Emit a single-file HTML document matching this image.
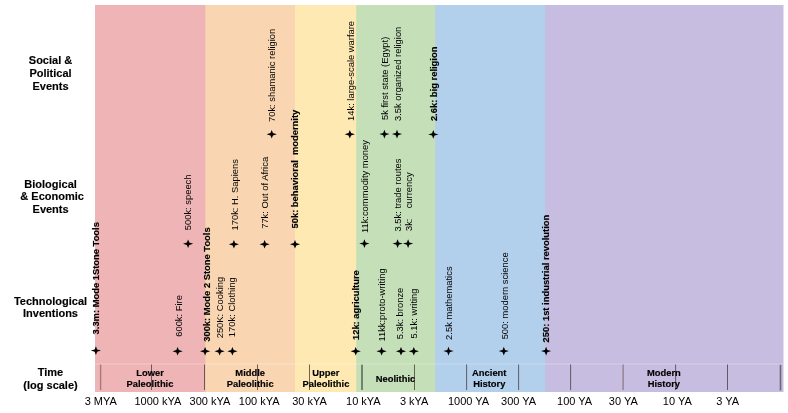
<!DOCTYPE html>
<html><head><meta charset="utf-8"><style>
html,body{margin:0;padding:0;background:#fff;width:788px;height:413px;overflow:hidden}
svg{display:block;will-change:transform;font-family:"Liberation Sans",sans-serif}
text{fill:#000}
.b,.lb,.er{stroke:#000;stroke-width:0.15px}
.r{font-size:9.4px}
.b{font-weight:bold}
.lb{font-size:11px;font-weight:bold}
.ax{font-size:11px}
.er{font-size:9.4px;font-weight:bold}
</style></head><body>
<svg width="788" height="413" viewBox="0 0 788 413">


<rect x="95" y="5" width="112.4" height="387" fill="#EFB4B5"/>
<rect x="205.4" y="5" width="91.6" height="387" fill="#F9D6B1"/>
<rect x="295" y="5" width="63.2" height="387" fill="#FEE9B3"/>
<rect x="356.2" y="5" width="81.0" height="387" fill="#C5DFB8"/>
<rect x="435.2" y="5" width="112.1" height="387" fill="#B2CFEB"/>
<rect x="545.3" y="5" width="238.2" height="387" fill="#C7BDE0"/>
<rect x="95" y="363.5" width="688.5" height="1" fill="#fff" fill-opacity="0.3"/>
<rect x="99.9" y="364.5" width="1.4" height="25.5" fill="#553333" fill-opacity="0.45"/>
<rect x="151.0" y="364.5" width="1" height="25.5" fill="#4a4040" fill-opacity="0.8"/>
<rect x="204.0" y="364.5" width="1" height="25.5" fill="#4a4040" fill-opacity="0.8"/>
<rect x="257.0" y="364.5" width="1" height="25.5" fill="#4a4040" fill-opacity="0.8"/>
<rect x="309.0" y="364.5" width="1" height="25.5" fill="#4a4040" fill-opacity="0.8"/>
<rect x="361" y="364.7" width="2" height="25.3" fill="#3a4a35" fill-opacity="0.6"/>
<rect x="414.0" y="364.5" width="1" height="25.5" fill="#4a4040" fill-opacity="0.8"/>
<rect x="466.1" y="364.5" width="1" height="25.5" fill="#4a4040" fill-opacity="0.8"/>
<rect x="518.1" y="364.5" width="1" height="25.5" fill="#4a4040" fill-opacity="0.8"/>
<rect x="570.1" y="364.5" width="1" height="25.5" fill="#4a4040" fill-opacity="0.8"/>
<rect x="622.4" y="364.5" width="1.4" height="25.5" fill="#553333" fill-opacity="0.45"/>
<rect x="675.1" y="364.5" width="1" height="25.5" fill="#4a4040" fill-opacity="0.8"/>
<rect x="727.0" y="364.5" width="1" height="25.5" fill="#4a4040" fill-opacity="0.8"/>
<rect x="779.7" y="364.8" width="1.6" height="25.7" fill="#555" fill-opacity="0.8"/>
<text class="er" x="150" y="375.7" text-anchor="middle">Lower</text>
<text class="er" x="150" y="386.7" text-anchor="middle">Paleolithic</text>
<text class="er" x="250.2" y="375.7" text-anchor="middle">Middle</text>
<text class="er" x="250.2" y="386.7" text-anchor="middle">Paleolithic</text>
<text class="er" x="325.9" y="375.7" text-anchor="middle">Upper</text>
<text class="er" x="325.9" y="386.7" text-anchor="middle">Paleolithic</text>
<text class="er" x="395.5" y="381.5" text-anchor="middle">Neolithic</text>
<text class="er" x="489.3" y="376" text-anchor="middle">Ancient</text>
<text class="er" x="489.3" y="386.9" text-anchor="middle">History</text>
<text class="er" x="663.9" y="376" text-anchor="middle">Modern</text>
<text class="er" x="663.9" y="386.9" text-anchor="middle">History</text>
<text class="lb" x="50.5" y="64.2" text-anchor="middle">Social &</text>
<text class="lb" x="50.5" y="76.7" text-anchor="middle">Political</text>
<text class="lb" x="50.5" y="89.8" text-anchor="middle">Events</text>
<text class="lb" x="50.6" y="187.6" text-anchor="middle">Biological</text>
<text class="lb" x="52.1" y="200.3" text-anchor="middle">& Economic</text>
<text class="lb" x="50.6" y="213" text-anchor="middle">Events</text>
<text class="lb" x="50.5" y="304.8" text-anchor="middle">Technological</text>
<text class="lb" x="50.5" y="317.4" text-anchor="middle">Inventions</text>
<text class="lb" x="50.5" y="375.7" text-anchor="middle">Time</text>
<text class="lb" x="50.5" y="388.5" text-anchor="middle">(log scale)</text>
<text class="ax" x="100.8" y="405.2" text-anchor="middle">3 MYA</text>
<text class="ax" x="157.9" y="405.2" text-anchor="middle">1000 kYA</text>
<text class="ax" x="210" y="405.2" text-anchor="middle">300 kYA</text>
<text class="ax" x="259.2" y="405.2" text-anchor="middle">100 kYA</text>
<text class="ax" x="309.5" y="405.2" text-anchor="middle">30 kYA</text>
<text class="ax" x="363.4" y="405.2" text-anchor="middle">10 kYA</text>
<text class="ax" x="414.2" y="405.2" text-anchor="middle">3 kYA</text>
<text class="ax" x="468.6" y="405.2" text-anchor="middle">1000 YA</text>
<text class="ax" x="518.6" y="405.2" text-anchor="middle">300 YA</text>
<text class="ax" x="574.6" y="405.2" text-anchor="middle">100 YA</text>
<text class="ax" x="623.3" y="405.2" text-anchor="middle">30 YA</text>
<text class="ax" x="677.3" y="405.2" text-anchor="middle">10 YA</text>
<text class="ax" x="727.7" y="405.2" text-anchor="middle">3 YA</text>
<text class="r" x="274.99" y="75.35" text-anchor="middle" transform="rotate(-90 274.99 75.35)">70k: shamanic religion</text>
<text class="r" x="353.74" y="70.95" text-anchor="middle" transform="rotate(-90 353.74 70.95)">14k: large-scale warfare</text>
<text class="r" x="388.04" y="78.40" text-anchor="middle" transform="rotate(-90 388.04 78.40)">5k first state (Egypt)</text>
<text class="r" x="400.74" y="73.85" text-anchor="middle" transform="rotate(-90 400.74 73.85)">3.5k organized religion</text>
<text class="r b" x="436.99" y="83.85" text-anchor="middle" transform="rotate(-90 436.99 83.85)">2.6k: big religion</text>
<text class="r" x="191.44" y="202.35" text-anchor="middle" transform="rotate(-90 191.44 202.35)">500k: speech</text>
<text class="r" x="237.74" y="194.75" text-anchor="middle" transform="rotate(-90 237.74 194.75)">170k: H. Sapiens</text>
<text class="r" x="268.04" y="192.85" text-anchor="middle" transform="rotate(-90 268.04 192.85)">77k: Out of Africa</text>
<text class="r b" x="297.89" y="169.10" text-anchor="middle" transform="rotate(-90 297.89 169.10)">50k: behavioral  modernity</text>
<text class="r" x="368.04" y="186.55" text-anchor="middle" transform="rotate(-90 368.04 186.55)">11k:commodity money</text>
<text class="r" x="400.69" y="195.05" text-anchor="middle" transform="rotate(-90 400.69 195.05)">3.5k: trade routes</text>
<text class="r" x="411.64" y="224.80" text-anchor="middle" transform="rotate(-90 411.64 224.80)">3k:</text>
<text class="r" x="411.64" y="190.35" text-anchor="middle" transform="rotate(-90 411.64 190.35)">currency</text>
<text class="r b" x="99.24" y="278.25" text-anchor="middle" transform="rotate(-90 99.24 278.25)">3.3m: Mode 1Stone Tools</text>
<text class="r" x="182.04" y="315.95" text-anchor="middle" transform="rotate(-90 182.04 315.95)">600k: Fire</text>
<text class="r b" x="209.64" y="284.55" text-anchor="middle" transform="rotate(-90 209.64 284.55)">300k: Mode 2 Stone Tools</text>
<text class="r" x="223.04" y="307.55" text-anchor="middle" transform="rotate(-90 223.04 307.55)">250K: Cooking</text>
<text class="r" x="235.34" y="307.15" text-anchor="middle" transform="rotate(-90 235.34 307.15)">170k: Clothing</text>
<text class="r b" x="359.49" y="305.10" text-anchor="middle" transform="rotate(-90 359.49 305.10)">12k: agriculture</text>
<text class="r" x="384.89" y="304.95" text-anchor="middle" transform="rotate(-90 384.89 304.95)">11kk:proto-writing</text>
<text class="r" x="403.09" y="313.50" text-anchor="middle" transform="rotate(-90 403.09 313.50)">5.3k: bronze</text>
<text class="r" x="417.34" y="313.45" text-anchor="middle" transform="rotate(-90 417.34 313.45)">5.1k: writing</text>
<text class="r" x="452.09" y="303.15" text-anchor="middle" transform="rotate(-90 452.09 303.15)">2.5k mathematics</text>
<text class="r" x="507.79" y="295.85" text-anchor="middle" transform="rotate(-90 507.79 295.85)">500: modern science</text>
<text class="r b" x="549.04" y="278.60" text-anchor="middle" transform="rotate(-90 549.04 278.60)">250: 1st industrial revolution</text>
<path transform="translate(271.7 134.3)" d="M-5.1 0L-1.25 -1.2L0 -4.3L1.25 -1.2L5.1 0L1.25 1.2L0 4.3L-1.25 1.2Z"/>
<path transform="translate(349.8 134.3)" d="M-5.1 0L-1.25 -1.2L0 -4.3L1.25 -1.2L5.1 0L1.25 1.2L0 4.3L-1.25 1.2Z"/>
<path transform="translate(384.4 134.1)" d="M-5.1 0L-1.25 -1.2L0 -4.3L1.25 -1.2L5.1 0L1.25 1.2L0 4.3L-1.25 1.2Z"/>
<path transform="translate(397 134.1)" d="M-5.1 0L-1.25 -1.2L0 -4.3L1.25 -1.2L5.1 0L1.25 1.2L0 4.3L-1.25 1.2Z"/>
<path transform="translate(433.3 134.4)" d="M-5.1 0L-1.25 -1.2L0 -4.3L1.25 -1.2L5.1 0L1.25 1.2L0 4.3L-1.25 1.2Z"/>
<path transform="translate(188.1 243.8)" d="M-5.1 0L-1.25 -1.2L0 -4.3L1.25 -1.2L5.1 0L1.25 1.2L0 4.3L-1.25 1.2Z"/>
<path transform="translate(233.9 244.2)" d="M-5.1 0L-1.25 -1.2L0 -4.3L1.25 -1.2L5.1 0L1.25 1.2L0 4.3L-1.25 1.2Z"/>
<path transform="translate(264.6 244.2)" d="M-5.1 0L-1.25 -1.2L0 -4.3L1.25 -1.2L5.1 0L1.25 1.2L0 4.3L-1.25 1.2Z"/>
<path transform="translate(295 244.2)" d="M-5.1 0L-1.25 -1.2L0 -4.3L1.25 -1.2L5.1 0L1.25 1.2L0 4.3L-1.25 1.2Z"/>
<path transform="translate(364.4 243.6)" d="M-5.1 0L-1.25 -1.2L0 -4.3L1.25 -1.2L5.1 0L1.25 1.2L0 4.3L-1.25 1.2Z"/>
<path transform="translate(397.6 243.6)" d="M-5.1 0L-1.25 -1.2L0 -4.3L1.25 -1.2L5.1 0L1.25 1.2L0 4.3L-1.25 1.2Z"/>
<path transform="translate(408.1 243.6)" d="M-5.1 0L-1.25 -1.2L0 -4.3L1.25 -1.2L5.1 0L1.25 1.2L0 4.3L-1.25 1.2Z"/>
<path transform="translate(95.9 350.6)" d="M-5.1 0L-1.25 -1.2L0 -4.3L1.25 -1.2L5.1 0L1.25 1.2L0 4.3L-1.25 1.2Z"/>
<path transform="translate(177.6 351.2)" d="M-5.1 0L-1.25 -1.2L0 -4.3L1.25 -1.2L5.1 0L1.25 1.2L0 4.3L-1.25 1.2Z"/>
<path transform="translate(205.1 351.2)" d="M-5.1 0L-1.25 -1.2L0 -4.3L1.25 -1.2L5.1 0L1.25 1.2L0 4.3L-1.25 1.2Z"/>
<path transform="translate(219.6 351.2)" d="M-5.1 0L-1.25 -1.2L0 -4.3L1.25 -1.2L5.1 0L1.25 1.2L0 4.3L-1.25 1.2Z"/>
<path transform="translate(232.4 351.2)" d="M-5.1 0L-1.25 -1.2L0 -4.3L1.25 -1.2L5.1 0L1.25 1.2L0 4.3L-1.25 1.2Z"/>
<path transform="translate(355.7 351.2)" d="M-5.1 0L-1.25 -1.2L0 -4.3L1.25 -1.2L5.1 0L1.25 1.2L0 4.3L-1.25 1.2Z"/>
<path transform="translate(381.6 351.2)" d="M-5.1 0L-1.25 -1.2L0 -4.3L1.25 -1.2L5.1 0L1.25 1.2L0 4.3L-1.25 1.2Z"/>
<path transform="translate(401 351.2)" d="M-5.1 0L-1.25 -1.2L0 -4.3L1.25 -1.2L5.1 0L1.25 1.2L0 4.3L-1.25 1.2Z"/>
<path transform="translate(413.8 351.2)" d="M-5.1 0L-1.25 -1.2L0 -4.3L1.25 -1.2L5.1 0L1.25 1.2L0 4.3L-1.25 1.2Z"/>
<path transform="translate(448.5 351.1)" d="M-5.1 0L-1.25 -1.2L0 -4.3L1.25 -1.2L5.1 0L1.25 1.2L0 4.3L-1.25 1.2Z"/>
<path transform="translate(503.8 351.1)" d="M-5.1 0L-1.25 -1.2L0 -4.3L1.25 -1.2L5.1 0L1.25 1.2L0 4.3L-1.25 1.2Z"/>
<path transform="translate(546.1 351.1)" d="M-5.1 0L-1.25 -1.2L0 -4.3L1.25 -1.2L5.1 0L1.25 1.2L0 4.3L-1.25 1.2Z"/>
</svg></body></html>
